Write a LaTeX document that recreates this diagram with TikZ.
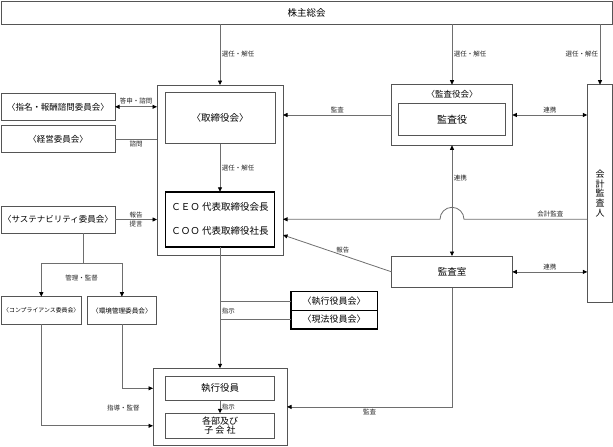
\documentclass[tikz,border=0pt]{standalone}
\usepackage{fontspec}
\setmainfont{Noto Sans CJK JP}
\usepackage{xcolor}
\definecolor{cLine}{HTML}{6E6E6E}
\definecolor{cFrame}{HTML}{555555}
\usepackage{tikz}
\usetikzlibrary{arrows.meta,calc}
\tikzset{
  node-box/.style={draw=cFrame,line width=0.8pt,inner sep=0pt,outer sep=0pt,
    align=center,font=\fontsize{9.5}{11}\selectfont},
  node-bold/.style={draw=black,line width=1.4pt},
  node-committee/.style={font=\fontsize{8.5}{10}\selectfont},
  node-label/.style={font=\fontsize{6.5}{7}\selectfont,inner sep=1.5pt,text=black!85},
  wh/.style 2 args={minimum width=#1pt,minimum height=#2pt},
  link/.style={draw=cLine,line width=0.8pt},
  arrow/.style={link,-{Triangle[length=4.5pt,width=4pt,color=black]}},
  arrow-both/.style={link,{Triangle[length=4.5pt,width=4pt,color=black]}-{Triangle[length=4.5pt,width=4pt,color=black]}},
}
\begin{document}
\begin{tikzpicture}[x=1pt,y=-1pt]
  \useasboundingbox (0,0) rectangle (613,447);
  % boxes
  \node[node-box,wh={611}{23}] (soukai) at (306.5,12.5) {株主総会};
  \node[node-box,wh={126}{170.5}] (torib) at (220,170.25) {};
  \node[node-box,wh={110}{51}] (torikai) at (220,118.3) {〈取締役会〉};
  \node[node-box,node-bold,wh={109}{55},font=\fontsize{9.5}{24}\selectfont] (ceo) at (220,219.3)
    {ＣＥＯ\ 代表取締役会長\\ＣＯＯ\ 代表取締役社長};
  \node[node-box,node-committee,wh={114}{27.7}] (shimei) at (58,106.8) {〈指名・報酬諮問委員会〉};
  \node[node-box,node-committee,wh={114}{27}] (keiei) at (58,139.2) {〈経営委員会〉};
  \node[node-box,node-committee,wh={114}{27}] (sust) at (58,219.5) {〈サステナビリティ委員会〉};
  \node[node-box,wh={120.6}{60.6}] (kyk) at (452,115) {};
  \node[font=\fontsize{8.5}{10}\selectfont,anchor=north,inner sep=0pt] (kykt) at ([yshift=-5pt]kyk.north) {〈監査役会〉};
  \node[node-box,wh={106.6}{32},font=\fontsize{10}{12}\selectfont] (kansayaku) at (452,119.3) {監査役};
  \node[node-box,wh={25.4}{217.6},font=\fontsize{9}{9.6}\selectfont] (kaikei) at (600,193.5) {会\\計\\監\\査\\人};
  \node[node-box,wh={120.6}{31.7}] (kansashitsu) at (452,271.9) {監査室};
  \node[node-box,node-bold,wh={86.3}{18.6},font=\fontsize{9}{11}\selectfont] (shikkokai) at (334.2,300.9) {〈執行役員会〉};
  \node[node-box,node-bold,wh={86.3}{18.6},font=\fontsize{9}{11}\selectfont] (genpo) at (334.2,319.5) {〈現法役員会〉};
  \node[node-box,wh={80.7}{27.6},font=\fontsize{5.9}{7}\selectfont] (comp) at (41.3,310.5) {〈コンプライアンス委員会〉};
  \node[node-box,wh={68.3}{27.6},font=\fontsize{6.6}{7}\selectfont] (kankyo) at (121.9,310.5) {〈環境管理委員会〉};
  \node[node-box,wh={134}{77.2}] (shikko) at (220,406.9) {};
  \node[node-box,wh={109.3}{24.7}] (yakuin) at (220,388.3) {執行役員};
  \node[node-box,wh={109.3}{25},font=\fontsize{9}{9.5}\selectfont] (kakubu) at (220,425.8) {各部及び\\子\ 会\ 社};
  % connectors
  \draw[arrow] (soukai.south -| torib.north) -- node[node-label,right]{選任・解任} (torib.north);
  \draw[arrow] (soukai.south -| kyk.north) -- node[node-label,right]{選任・解任} (kyk.north);
  \draw[arrow] (soukai.south -| kaikei.north) -- node[node-label,left]{選任・解任} (kaikei.north);
  \draw[arrow-both] (shimei.east) -- node[node-label,above=1pt]{答申・諮問} (shimei.east -| torib.west);
  \draw[link] (keiei.east) -- node[node-label,below]{諮問} (keiei.east -| torib.west);
  \draw[arrow] (torikai) -- node[node-label,right]{選任・解任} (ceo);
  \draw[arrow] (sust.east) -- node[node-label,above]{報告} node[node-label,below]{提言} (sust.east -| torib.west);
  \draw[arrow] (kyk.west) -- node[node-label,above]{監査} (kyk.west -| torib.east);
  \draw[arrow-both] (kyk.east) -- node[node-label,above]{連携} (kyk.east -| kaikei.west);
  \draw[arrow-both] (kyk.south) -- node[node-label,right,pos=0.3]{連携} (kansashitsu.north);
  \coordinate (hop) at (kyk.south |- ceo.east);
  \draw[arrow] (kaikei.west |- hop) -- node[node-label,above,pos=0.3]{会計監査} ([xshift=12pt]hop)
    arc[start angle=0,end angle=180,radius=12pt] -- (torib.east |- hop);
  \coordinate (hokoku) at (torib.east |- 0,235);
  \draw[arrow] (kansashitsu.west) -- node[node-label,above,pos=0.45]{報告} (hokoku);
  \draw[arrow-both] (kansashitsu.east) -- node[node-label,above]{連携} (kansashitsu.east -| kaikei.west);
  \draw[arrow] (kansashitsu.south) |- node[node-label,below,pos=0.75]{監査} (shikko.east);
  \draw[arrow] (ceo.south) -- node[node-label,right,pos=0.53]{指示} (shikko.north);
  \draw[link] (ceo.south |- shikkokai.west) -- (shikkokai.west);
  \draw[link] (ceo.south |- genpo.west) -- (genpo.west);
  \coordinate (kanri) at (83.3,263.3);
  \draw[link] (sust.south -| kanri) -- (kanri);
  \draw[arrow] (kanri) -| (comp.north);
  \draw[arrow] (kanri) -| (kankyo.north);
  \node[node-label] (kanril) at (81.7,277.7) {管理・監督};
  \draw[arrow] (kankyo.south) |- (yakuin.west -| shikko.west);
  \draw[arrow] (comp.south) |- (kakubu.west -| shikko.west);
  \node[node-label] (shidol) at (123.3,408) {指導・監督};
  \draw[arrow] (yakuin) -- node[node-label,right]{指示} (kakubu);
\end{tikzpicture}
\end{document}
